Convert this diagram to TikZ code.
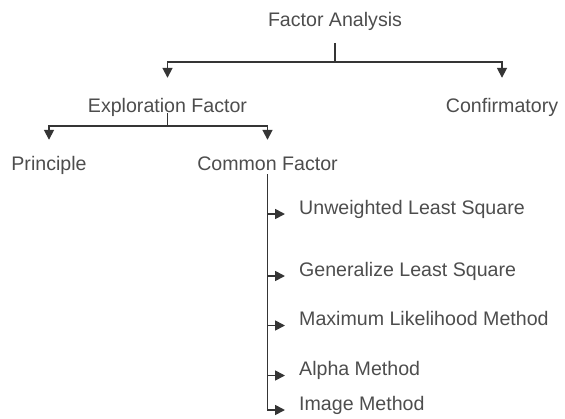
\documentclass[tikz,border=0pt]{standalone}
\usepackage{fontspec}
\setmainfont{Liberation Sans}
\usetikzlibrary{arrows.meta}
\definecolor{txtgray}{HTML}{4D4D4D}
\definecolor{linegray}{HTML}{353535}
\tikzset{
  lbl/.style={inner sep=0pt, text height=14pt, text depth=4pt,
    text=txtgray, font=\fontsize{19.6}{22}\selectfont},
  link/.style={draw=linegray, line width=1.7pt},
  arr/.style={link, -{Triangle[length=10pt,width=10pt]}},
}
\begin{document}
\begin{tikzpicture}[x=1pt,y=-1pt]
\useasboundingbox (0,0) rectangle (565,418);

% tree labels (placed on their baselines)
\node[lbl, anchor=base] (fa) at (335,26.7) {Factor Analysis};
\node[lbl, anchor=base] (ef) at (167.5,112) {Exploration Factor};
\node[lbl, anchor=base] (cn) at (502,112) {Confirmatory};
\node[lbl, anchor=base] (pr) at (49,170) {Principle};
\node[lbl, anchor=base] (cf) at (267.5,170) {Common Factor};

% extraction methods under Common Factor
\node[lbl, anchor=base west] (m1) at (299,214) {Unweighted Least Square};
\node[lbl, anchor=base west] (m2) at (299,276) {Generalize Least Square};
\node[lbl, anchor=base west] (m3) at (299,325.5) {Maximum Likelihood Method};
\node[lbl, anchor=base west] (m4) at (299,375.5) {Alpha Method};
\node[lbl, anchor=base west] (m5) at (299,410) {Image Method};

% junctions of the split bars
\coordinate (fj) at ([yshift=-35pt]fa.base);
\coordinate (ej) at ([yshift=-13.7pt]ef.base);

% Factor Analysis -> its two kinds
\draw[link, shorten <=12pt] (fa.south) -- (fj);
\draw[arr, shorten >=20pt] (fj) -| (ef.north);
\draw[arr, shorten >=20pt] (fj) -| (cn.north);

% Exploration Factor -> Principle / Common Factor
\draw[link, shorten <=1pt] (ef.base) -- (ej);
\draw[arr, shorten >=16pt] (ej) -| (pr.north);
\draw[arr, shorten >=16pt] (ej) -| (cf.north);

% Common Factor trunk with its method branches
\draw[arr] (cf.south) |- ([xshift=-14pt]m5.base west);
\foreach \m in {m1,m2,m3,m4}
  \draw[arr] (cf.south |- \m.base west) -- ([xshift=-14pt]\m.base west);
\end{tikzpicture}
\end{document}
